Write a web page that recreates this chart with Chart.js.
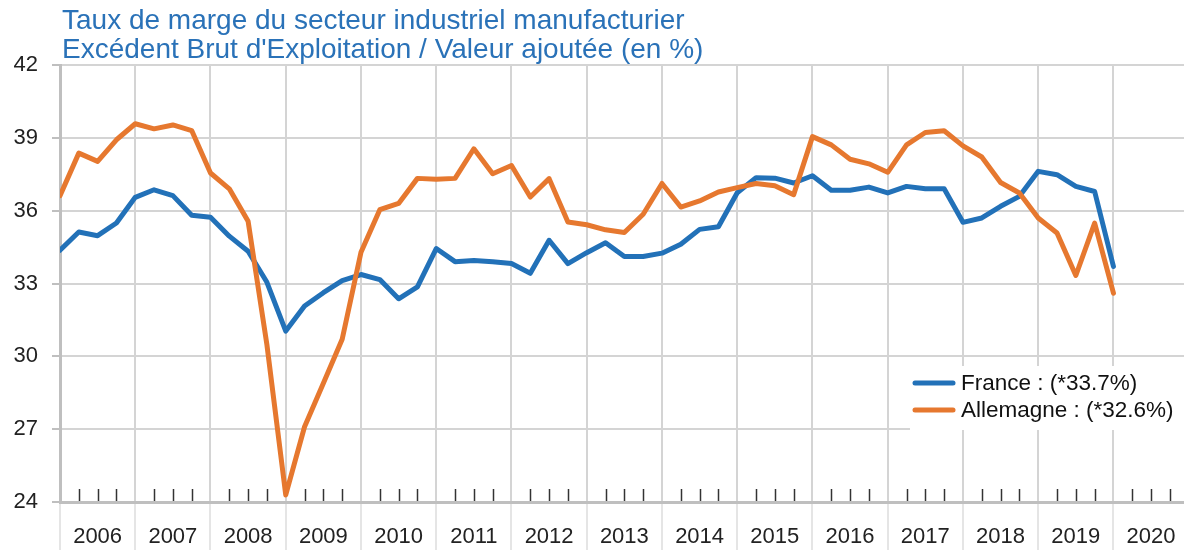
<!DOCTYPE html>
<html lang="fr">
<head>
<meta charset="utf-8">
<title>Taux de marge du secteur industriel manufacturier</title>
<script src="https://cdn.jsdelivr.net/npm/chart.js@4.4.1/dist/chart.umd.min.js"></script>
<style>
	html, body { margin: 0; padding: 0; background: #fff; }
	#cadre { width: 1184px; height: 550px; position: relative; }
</style>
</head>
<body>
<div id="cadre"><canvas id="graphique"></canvas></div>
<script>
/* Données (trimestrielles, 2006T1 -> 2020T1) */
const titre = [
	"Taux de marge du secteur industriel manufacturier",
	"Excédent Brut d'Exploitation / Valeur ajoutée (en %)"
];
const annees = ["2006","2007","2008","2009","2010","2011","2012","2013","2014","2015","2016","2017","2018","2019","2020"];
const etiquettes = ["France : (*33.7%)", "Allemagne : (*32.6%)"];

const france = [
	34.37, 35.12, 34.97, 35.49, 36.55, 36.86, 36.62, 35.81, 35.73, 34.95,
	34.33, 33.05, 31.04, 32.07, 32.62, 33.12, 33.37, 33.16, 32.37, 32.86,
	34.44, 33.90, 33.95, 33.90, 33.82, 33.42, 34.78, 33.82, 34.27, 34.68,
	34.11, 34.11, 34.25, 34.62, 35.23, 35.34, 36.74, 37.36, 37.34, 37.14,
	37.44, 36.84, 36.84, 36.97, 36.73, 37.00, 36.90, 36.90, 35.52, 35.70,
	36.18, 36.59, 37.62, 37.48, 37.00, 36.79, 33.70
];
const allemagne = [
	36.62, 38.37, 38.03, 38.92, 39.58, 39.37, 39.53, 39.30, 37.55, 36.90,
	35.56, 30.47, 24.29, 27.10, 28.89, 30.70, 34.29, 36.04, 36.30, 37.33,
	37.29, 37.33, 38.55, 37.52, 37.86, 36.56, 37.32, 35.53, 35.42, 35.21,
	35.10, 35.85, 37.12, 36.15, 36.40, 36.77, 36.95, 37.12, 37.03, 36.66,
	39.05, 38.71, 38.12, 37.93, 37.58, 38.71, 39.22, 39.29, 38.67, 38.21,
	37.16, 36.73, 35.70, 35.08, 33.33, 35.49, 32.60
];

const BLEU = "#2271b8";
const ORANGE = "#e6782f";
const GRIS = "#d4d4d4";
const POLICE = "'Liberation Sans', Arial, sans-serif";
const TRIM = 4; // trimestres par an

// index du trimestre -> point {x, y}
const enPoints = serie => serie.map((v, i) => ({ x: i, y: v }));

/* Titre en haut à gauche */
const pluginTitre = {
	id: 'titre',
	afterDraw(chart){
		const c = chart.ctx;
		c.save();
		c.font = "28px " + POLICE;
		c.fillStyle = "#2a72b8";
		c.textBaseline = "middle";
		c.fillText(titre[0], 62, 21);
		c.fillText(titre[1], 62, 50);
		c.restore();
	}
};

/* petites graduations trimestrielles au-dessus de l'axe */
const pluginGraduations = {
	id: 'graduations',
	afterDatasetsDraw(chart){
		const sx = chart.scales.x, bas = chart.chartArea.bottom;
		const c = chart.ctx;
		c.save();
		c.strokeStyle = "#333";
		c.lineWidth = 1.5;
		sx.ticks.forEach(t => {
			if(t.value % TRIM === 0 || t.value > sx.max) return;
			const px = Math.round(sx.getPixelForValue(t.value)) + 0.5;
			c.beginPath();
			c.moveTo(px, bas - 13);
			c.lineTo(px, bas - 1);
			c.stroke();
		});
		c.restore();
	}
};

/* légende dans la zone du graphique, en bas à droite */
const pluginLegende = {
	id: 'legende',
	afterDraw(chart){
		const c = chart.ctx, ca = chart.chartArea;
		const x0 = ca.right - 274, y0 = 366;
		c.save();
		c.fillStyle = "#fff";
		c.fillRect(x0, y0, 274, 64);
		c.font = "22.5px " + POLICE;
		c.textBaseline = "middle";
		chart.data.datasets.forEach((ds, i) => {
			const y = y0 + 17 + i * 27;
			c.strokeStyle = ds.borderColor;
			c.lineWidth = 5;
			c.lineCap = "round";
			c.beginPath();
			c.moveTo(x0 + 5, y);
			c.lineTo(x0 + 43, y);
			c.stroke();
			c.fillStyle = "#111";
			c.fillText(ds.label, x0 + 51, y + 1);
		});
		c.restore();
	}
};

const ctx = document.getElementById('graphique').getContext('2d');
new Chart(ctx, {
	type: 'line',
	data: {
		datasets: [
			{ label: etiquettes[0], data: enPoints(france), borderColor: BLEU, borderWidth: 5,
			  pointRadius: 0, tension: 0, borderJoinStyle: 'round', borderCapStyle: 'round', order: 2 },
			{ label: etiquettes[1], data: enPoints(allemagne), borderColor: ORANGE, borderWidth: 5,
			  pointRadius: 0, tension: 0, borderJoinStyle: 'round', borderCapStyle: 'round', order: 1 }
		]
	},
	options: {
		responsive: true,
		maintainAspectRatio: false,
		animation: false,
		layout: { padding: { top: 65, left: 0, right: 0, bottom: 0 } },
		plugins: {
			legend: { display: false },
			tooltip: { enabled: false },
			title: { display: false }
		},
		scales: {
			x: {
				type: 'linear',
				min: 0,
				max: 59.75,
				afterBuildTicks: s => {
					const t = [];
					annees.forEach((a, k) => { for(let q = 0; q < TRIM; q++) t.push({ value: k * TRIM + q }); });
					s.ticks = t;
				},
				afterFit: s => { s.height = 48; },
				border: { display: true, color: "#bfbfbf", width: 3 },
				grid: {
					color: c => (c.tick && c.tick.value % TRIM === 0) ? GRIS : 'transparent',
					tickColor: c => (c.tick && c.tick.value % TRIM === 0) ? "#dcdcdc" : 'transparent',
					lineWidth: 2,
					tickWidth: 1.5,
					tickLength: 48
				},
				ticks: {
					autoSkip: false,
					maxRotation: 0,
					padding: -26,
					color: "#222",
					font: { size: 22, family: POLICE },
					callback: v => (v % TRIM === 2) ? annees[Math.floor(v / TRIM)] : ''
				}
			},
			y: {
				min: 24,
				max: 42,
				afterFit: s => { s.width = 60; },
				border: { display: true, color: "#bfbfbf", width: 3 },
				grid: { color: GRIS, lineWidth: 2, tickLength: 8, tickColor: "#bfbfbf" },
				ticks: {
					stepSize: 3,
					padding: 14,
					color: "#222",
					font: { size: 22, family: POLICE }
				}
			}
		}
	},
	plugins: [pluginTitre, pluginGraduations, pluginLegende]
});
</script>
</body>
</html>
